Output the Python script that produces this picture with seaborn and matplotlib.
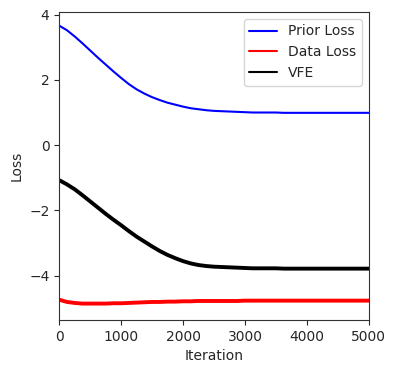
import matplotlib
matplotlib.use("Agg")
import matplotlib.pyplot as plt
import seaborn as sns
import pandas as pd

# valores (cada 125 iteraciones)
iteraciones = list(range(0, 5001, 125))
prior_loss = [3.66, 3.52, 3.33, 3.12, 2.90, 2.68, 2.47, 2.26, 2.06, 1.87,
              1.71, 1.58, 1.47, 1.38, 1.30, 1.24, 1.18, 1.13, 1.10, 1.07,
              1.05, 1.04, 1.03, 1.02, 1.01, 1.00, 1.00, 1.00, 1.00, 0.99,
              0.99, 0.99, 0.99, 0.99, 0.99, 0.99, 0.99, 0.99, 0.99, 0.99, 0.99]
data_loss = [-4.73, -4.80, -4.83, -4.85, -4.85, -4.85, -4.85, -4.84, -4.84, -4.83,
             -4.82, -4.81, -4.80, -4.80, -4.79, -4.79, -4.78, -4.78, -4.77, -4.77,
             -4.77, -4.77, -4.77, -4.77, -4.76, -4.76, -4.76, -4.76, -4.76, -4.76,
             -4.76, -4.76, -4.76, -4.76, -4.76, -4.76, -4.76, -4.76, -4.76, -4.76, -4.76]
vfe = [-1.07, -1.20, -1.35, -1.53, -1.72, -1.91, -2.10, -2.28, -2.45, -2.63,
       -2.80, -2.95, -3.10, -3.24, -3.36, -3.46, -3.55, -3.62, -3.67, -3.70,
       -3.72, -3.73, -3.74, -3.75, -3.76, -3.77, -3.77, -3.77, -3.77, -3.78,
       -3.78, -3.78, -3.78, -3.78, -3.78, -3.78, -3.78, -3.78, -3.78, -3.78, -3.78]

df = pd.DataFrame({
    "Iteration": iteraciones * 3,
    "Loss": prior_loss + data_loss + vfe,
    "serie": ["Prior Loss"] * len(iteraciones) + ["Data Loss"] * len(iteraciones) + ["VFE"] * len(iteraciones),
})

sns.set_style("ticks")
plt.rcParams["font.family"] = ["DejaVu Sans"]

fig = plt.figure(figsize=(3.97, 3.72), dpi=100)
ax = fig.add_axes([0.149, 0.140, 0.780, 0.828])

colores = {"Prior Loss": "blue", "Data Loss": "red", "VFE": "black"}
# las series con ruido se ven como una banda mas gruesa
grosor = {"Prior Loss": 1.5, "Data Loss": 2.8, "VFE": 2.8}
for nombre in ["Prior Loss", "Data Loss", "VFE"]:
    sub = df[df["serie"] == nombre]
    sns.lineplot(data=sub, x="Iteration", y="Loss", color=colores[nombre],
                 linewidth=grosor[nombre], label=nombre, ax=ax)

ax.set_xlim(0, 5000)
ax.set_ylim(-5.35, 4.08)
ax.set_xticks([0, 1000, 2000, 3000, 4000, 5000])
ax.set_yticks([-4, -2, 0, 2, 4])
ax.set_xlabel("Iteration", fontsize=10)
ax.set_ylabel("Loss", fontsize=10)
ax.tick_params(labelsize=10, length=3.5, width=0.8)
for s in ax.spines.values():
    s.set_color("#333333")
    s.set_linewidth(0.8)

leg = ax.legend(loc="upper right", fontsize=10, frameon=True)
for h in leg.get_lines():
    h.set_linewidth(1.5)

fig.savefig("out.png", dpi=100)
